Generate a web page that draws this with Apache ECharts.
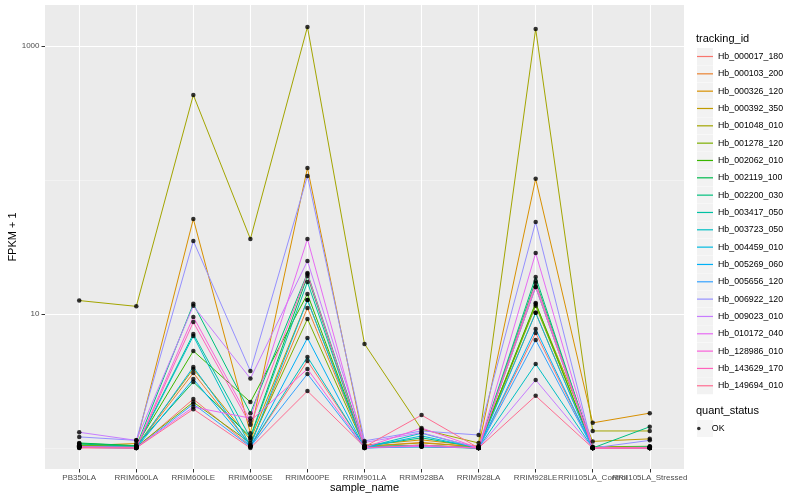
<!DOCTYPE html>
<html>
<head>
<meta charset="utf-8">
<script src="https://cdn.jsdelivr.net/npm/echarts@6/dist/echarts.min.js"></script>
<style>html,body{margin:0;padding:0;background:#fff}#c{width:800px;height:500px}</style>
</head>
<body>
<div id="c"></div>
<script>
const categories = ['PB350LA','RRIM600LA','RRIM600LE','RRIM600SE','RRIM600PE','RRIM901LA','RRIM928BA','RRIM928LA','RRIM928LE','RRII105LA_Control','RRII105LA_Stressed'];
const trackingIds = ['Hb_000017_180','Hb_000103_200','Hb_000326_120','Hb_000392_350','Hb_001048_010','Hb_001278_120','Hb_002062_010','Hb_002119_100','Hb_002200_030','Hb_003417_050','Hb_003723_050','Hb_004459_010','Hb_005269_060','Hb_005656_120','Hb_006922_120','Hb_009023_010','Hb_010172_040','Hb_128986_010','Hb_143629_170','Hb_149694_010'];
const colors = ['#F8766D','#EA8331','#D89000','#C09B00','#A3A500','#7CAE00','#39B600','#00BB4E','#00BF7D','#00C1A3','#00BFC4','#00BAE0','#00B0F6','#35A2FF','#9590FF','#C77CFF','#E76BF3','#FA62DB','#FF62BC','#FF6C91'];
const Hb_000017_180 = [1.02, 1.0, 2.32, 1.03, 4.46, 1.02, 1.05, 1.0, 7.22, 1.0, 1.0];
const Hb_000103_200 = [1.03, 1.02, 3.63, 1.05, 11.1, 1.03, 1.1, 1.02, 10.2, 1.01, 1.02];
const Hb_000326_120 = [1.04, 1.08, 51.2, 1.29, 123, 1.05, 1.15, 1.03, 102, 1.54, 1.82];
const Hb_000392_350 = [1.05, 1.03, 3.89, 1.15, 12.7, 1.03, 1.09, 1.02, 11.9, 1.12, 1.17];
const Hb_001048_010 = [12.6, 11.4, 431, 36.3, 1387, 5.98, 1.38, 1.09, 1340, 1.34, 1.34];
const Hb_001278_120 = [1.05, 1.02, 2.2, 1.09, 9.18, 1.02, 1.03, 1.0, 11.5, 1.02, 1.03];
const Hb_002062_010 = [1.08, 1.04, 5.3, 2.2, 14.1, 1.02, 1.04, 1.01, 12.1, 1.0, 1.01];
const Hb_002119_100 = [1.09, 1.04, 3.11, 1.21, 19.2, 1.02, 1.02, 1.0, 17.6, 1.01, 1.0];
const Hb_002200_030 = [1.07, 1.03, 11.9, 1.82, 20.2, 1.03, 1.19, 1.01, 18.9, 1.0, 1.44];
const Hb_003417_050 = [1.03, 1.02, 7.1, 1.19, 17.3, 1.02, 1.05, 1.0, 15.9, 1.0, 1.02];
const Hb_003723_050 = [1.02, 1.01, 6.86, 1.03, 4.78, 1.01, 1.29, 1.0, 4.24, 1.0, 1.0];
const Hb_004459_010 = [1.02, 1.01, 4.02, 1.04, 12.7, 1.01, 1.23, 1.0, 10.2, 1.0, 1.0];
const Hb_005269_060 = [1.01, 1.0, 3.27, 1.02, 6.62, 1.0, 1.035, 1.0, 7.73, 1.0, 1.0];
const Hb_005656_120 = [1.01, 1.0, 2.13, 1.02, 3.57, 1.0, 1.02, 1.0, 6.4, 1.0, 1.0];
const Hb_006922_120 = [1.21, 1.14, 35.1, 3.75, 107, 1.13, 1.34, 1.25, 48.6, 1.0, 1.14];
const Hb_009023_010 = [1.31, 1.14, 11.5, 3.3, 24.9, 1.1, 1.3, 1.0, 3.22, 1.0, 1.01];
const Hb_010172_040 = [1.02, 1.01, 2.02, 1.67, 36.3, 1.01, 1.03, 1.0, 28.5, 1.0, 1.0];
const Hb_128986_010 = [1.02, 1.01, 9.5, 1.59, 3.89, 1.01, 1.41, 1.0, 15.9, 1.0, 1.0];
const Hb_143629_170 = [1.01, 1.0, 8.7, 1.49, 19.9, 1.0, 1.05, 1.0, 17.0, 1.0, 1.0];
const Hb_149694_010 = [1.0, 1.0, 1.95, 1.0, 2.66, 1.02, 1.76, 1.0, 2.45, 1.0, 1.0];
const seriesValues = [Hb_000017_180, Hb_000103_200, Hb_000326_120, Hb_000392_350, Hb_001048_010, Hb_001278_120, Hb_002062_010, Hb_002119_100, Hb_002200_030, Hb_003417_050, Hb_003723_050, Hb_004459_010, Hb_005269_060, Hb_005656_120, Hb_006922_120, Hb_009023_010, Hb_010172_040, Hb_128986_010, Hb_143629_170, Hb_149694_010];
const yTickValues = [10, 1000];
const yMinorValues = [1, 100];

const FONT = 'Liberation Sans, Arial, sans-serif';
const catIdx = categories.map((c, i) => i);
const lastIdx = catIdx.slice(-1);
const mainIdx = catIdx.slice(0, -1);

const series = [];
series.push({
  type: 'line', name: '_grid', data: [], silent: true, z: 0,
  markLine: {
    silent: true, symbol: ['none', 'none'], animation: false, z: 0,
    label: { show: false },
    data: [
      ...yMinorValues.map(v => ({ yAxis: v, lineStyle: { color: '#F7F7F7', width: 0.6, type: 'solid' } })),
      ...yTickValues.map(v => ({ yAxis: v, lineStyle: { color: '#FFFFFF', width: 1.1, type: 'solid' } })),
      ...catIdx.map(i => ({ xAxis: i, lineStyle: { color: '#FFFFFF', width: 1.1, type: 'solid' } }))
    ]
  }
});
trackingIds.forEach((id, k) => {
  series.push({
    type: 'line', name: id, z: 2,
    data: seriesValues[k].map((v, i) => [i, v]),
    showSymbol: false, symbol: 'none',
    lineStyle: { color: colors[k], width: 1 },
    itemStyle: { color: colors[k] },
    emphasis: { disabled: true }
  });
});
const points = [];
seriesValues.forEach(arr => arr.forEach((v, i) => points.push([i, v])));
series.push({
  type: 'scatter', name: 'OK', z: 3, data: points,
  symbol: 'circle', symbolSize: 4.5, itemStyle: { color: '#000000' }, emphasis: { disabled: true }
});

const legendBase = {
  orient: 'vertical', left: 697, padding: 0, selectedMode: false,
  itemGap: 0.33, itemWidth: 16
};
const xLabelStyle = { formatter: v => categories[Math.round(v)], fontFamily: FONT, fontSize: 8, color: '#4D4D4D', margin: 5 };
const xTickStyle = { show: true, length: 3.5, lineStyle: { color: '#333333', width: 1 } };

const option = {
  animation: false,
  backgroundColor: '#FFFFFF',
  title: [
    { text: 'tracking_id', left: 696, top: 33, padding: 0, textStyle: { fontFamily: FONT, fontSize: 11, fontWeight: 'normal', color: '#000' } },
    { text: 'quant_status', left: 696, top: 405, padding: 0, textStyle: { fontFamily: FONT, fontSize: 11, fontWeight: 'normal', color: '#000' } }
  ],
  grid: { left: 45, right: 116, top: 5, bottom: 31, show: true, backgroundColor: '#EBEBEB', borderWidth: 0, containLabel: false, outerBoundsMode: 'none' },
  xAxis: [{
    type: 'value', min: -0.6, max: 10.6, position: 'bottom',
    name: 'sample_name', nameLocation: 'middle', nameGap: 13, nameMoveOverlap: false,
    nameTextStyle: { fontFamily: FONT, fontSize: 11, color: '#000' },
    axisLine: { show: false, onZero: false },
    splitLine: { show: false },
    axisTick: Object.assign({ customValues: mainIdx }, xTickStyle),
    axisLabel: Object.assign({ customValues: mainIdx, hideOverlap: false }, xLabelStyle)
  }, {
    type: 'value', min: -0.6, max: 10.6, position: 'bottom', gridIndex: 0,
    axisLine: { show: false, onZero: false },
    splitLine: { show: false },
    axisTick: Object.assign({ customValues: lastIdx }, xTickStyle),
    axisLabel: Object.assign({ customValues: lastIdx, hideOverlap: false }, xLabelStyle)
  }],
  yAxis: {
    type: 'log', logBase: 10, min: 0.697, max: 2023,
    name: 'FPKM + 1', nameLocation: 'middle', nameGap: 27, nameMoveOverlap: false,
    nameTextStyle: { fontFamily: FONT, fontSize: 11, color: '#000' },
    axisLine: { show: false, onZero: false },
    splitLine: { show: false },
    minorSplitLine: { show: false },
    axisTick: { show: true, customValues: yTickValues, length: 3.5, lineStyle: { color: '#333333', width: 1 } },
    axisLabel: { customValues: yTickValues, formatter: v => String(Math.round(v)), fontFamily: FONT, fontSize: 8, color: '#4D4D4D', margin: 5.5 }
  },
  legend: [
    Object.assign({}, legendBase, {
      top: 48, z: 3, data: trackingIds, icon: 'rect', itemHeight: 17,
      itemStyle: { color: '#F2F2F2', borderWidth: 0 }, lineStyle: { opacity: 0 },
      textStyle: { fontFamily: FONT, fontSize: 8.8, color: 'rgba(0,0,0,0)', lineHeight: 17 }
    }),
    Object.assign({}, legendBase, {
      top: 48, z: 4, data: trackingIds, icon: 'rect', itemHeight: 1.2,
      textStyle: { fontFamily: FONT, fontSize: 8.8, color: '#000', lineHeight: 17 }
    }),
    Object.assign({}, legendBase, {
      top: 420, z: 3, data: ['OK'], icon: 'rect', itemHeight: 17,
      itemStyle: { color: '#F2F2F2', borderWidth: 0 },
      textStyle: { fontFamily: FONT, fontSize: 8.8, color: 'rgba(0,0,0,0)', lineHeight: 17 }
    }),
    Object.assign({}, legendBase, {
      top: 420, z: 4, data: ['OK'], icon: 'circle', itemHeight: 3.6,
      itemStyle: { color: '#000' },
      textStyle: { fontFamily: FONT, fontSize: 8.8, color: '#000', lineHeight: 17 }
    })
  ],
  series: series
};
const chart = echarts.init(document.getElementById('c'), null, { renderer: 'canvas' });
chart.setOption(option);
</script>
</body>
</html>
